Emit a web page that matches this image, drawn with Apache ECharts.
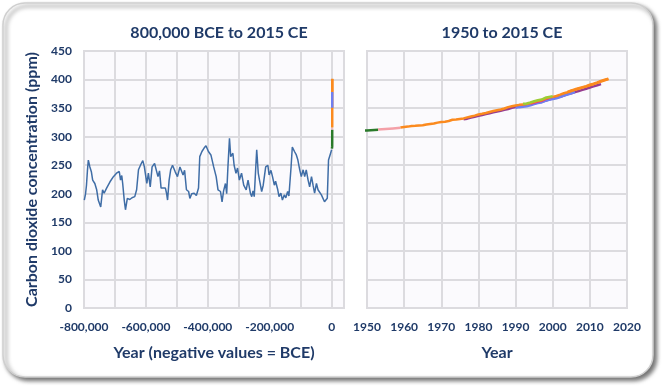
<!DOCTYPE html>
<html>
<head>
<meta charset="utf-8">
<script src="https://cdn.jsdelivr.net/npm/echarts@6/dist/echarts.min.js"></script>
<style>
html,body{margin:0;padding:0;background:#ffffff;}
#chart{width:662px;height:388px;}
</style>
</head>
<body>
<div id="chart"></div>
<script>
// ---------- DATA ----------
// Ice-core record: years (negative = BCE) and CO2 (ppm)
var iceYears = [-799000,-795000,-792000,-789000,-786000,-781000,-776000,-772000,-765000,-759000,-754000,-746000,-740000,-735000,-727000,-716000,-705000,-695000,-686000,-682000,-678000,-675000,-670000,-666000,-660000,-652000,-645000,-636000,-630000,-624000,-615000,-610000,-605000,-597000,-592000,-586000,-580000,-572000,-566000,-561000,-556000,-551000,-545000,-537000,-533000,-530000,-525000,-520000,-514000,-505000,-498000,-490000,-485000,-480000,-475000,-469000,-462000,-458000,-452000,-444000,-437000,-430000,-426000,-419000,-412000,-406000,-398000,-390000,-381000,-373000,-367000,-359000,-354000,-349000,-343000,-339000,-335000,-330000,-326000,-319000,-315000,-309000,-304000,-298000,-291000,-284000,-276000,-270000,-262000,-258000,-254000,-250000,-245000,-242000,-237000,-233000,-226000,-221000,-213000,-206000,-202000,-196000,-191000,-185000,-181000,-174000,-170000,-164000,-159000,-153000,-148000,-142000,-138000,-131000,-127000,-120000,-114000,-109000,-103000,-98000,-92000,-87000,-82000,-76000,-71000,-65000,-60000,-55000,-49000,-44000,-39000,-33000,-28000,-23000,-17000,-14000,-10000,-5000,-1000,0];
var iceCO2 = [189,200,215,240,259,247,238,224,218,207,189,177,207,201,210,221,230,236,239,224,232,218,189,172,192,190,193,195,207,242,253,258,247,218,236,212,247,253,250,230,240,210,207,210,200,189,224,242,250,238,230,247,245,233,241,207,204,192,200,201,197,210,265,274,280,284,274,268,247,230,207,204,186,205,218,200,247,297,265,271,250,236,245,224,236,215,207,224,200,195,205,195,247,277,236,224,204,215,247,250,233,241,230,215,222,207,195,201,189,198,193,204,196,247,282,274,268,259,242,230,242,230,242,224,212,230,215,201,218,207,208,198,196,186,186,192,259,268,271,277];

// Modern records
var lawYears = [1000,1400,1750,1800,1850,1880,1900,1920,1935,1945,1950,1953];
var lawCO2   = [279,280,277,283,285,291,296,303,307,310,311,312];

var sipleYears = [1953,1955,1957,1959];
var sipleCO2   = [312.5,313.5,314.5,315.5];

var mloYears = [1959,1960,1961,1962,1963,1964,1965,1966,1967,1968,1969,1970,1971,1972,1973,1974,1975,1976,1977,1978,1979,1980,1981,1982,1983,1984,1985,1986,1987,1988,1989,1990,1991,1992,1993,1994,1995,1996,1997,1998,1999,2000,2001,2002,2003,2004,2005,2006,2007,2008,2009,2010,2011,2012,2013,2014,2015];
var mloCO2   = [316.0,316.9,317.6,318.5,319.0,319.6,320.0,321.4,322.2,323.0,324.6,325.7,326.3,327.5,329.7,330.2,331.1,332.0,333.8,335.4,336.8,338.8,340.1,341.5,343.2,344.9,346.4,347.6,349.3,351.7,353.2,354.5,355.7,356.5,357.2,359.0,361.0,362.7,363.9,366.8,368.5,369.7,371.3,373.5,376.0,377.7,380.0,382.1,384.0,385.8,387.6,390.1,391.9,394.1,396.7,398.8,401.0];

var poleYears = [1976,1977,1978,1979,1980,1981,1982,1983,1984,1985,1986,1987,1988,1989,1990,1991,1992,1993,1994,1995,1996,1997,1998,1999,2000,2001,2002,2003,2004,2005,2006,2007,2008,2009,2010,2011,2012,2013];
var poleCO2   = [330.5,331.5,333.5,335,336.5,338,339.5,341,342.5,344,345.5,347,348.5,350.5,352,353.5,354.5,355.5,356.5,358,360,361.5,363,365,367,368.5,370,372,374.5,376,378,380,382,384,386,388,390,392];

var grimYears = [1990,1991,1992,1993,1994,1995,1996,1997,1998,1999,2000,2001,2002,2003,2004,2005,2006];
var grimCO2   = [350.5,351.7,352.5,353.2,355,357,358.7,359.9,362.8,364.5,365.7,367.3,369.4,372,373.7,376,378];

var magYears = [1994,1995,1996,1997,1998,1999];
var magCO2   = [358,359.8,361.7,362.9,365.8,367.5];

var lgYears = [1992,1993,1994,1995,1996,1997,1998,1999,2000];
var lgCO2   = [357.5,358.2,360,362,363.7,365,368,369.7,371];

var brwYears = [2004,2005,2006,2007,2008,2009,2010,2011,2012,2013,2014,2015];
var brwCO2   = [378.5,380.8,382.9,384.8,386.6,388.4,390.9,392.6,394.8,397.5,399.6,401.5];

var leftTitle  = '800,000 BCE to 2015 CE';
var rightTitle = '1950 to 2015 CE';
var yName = 'Carbon dioxide concentration (ppm)';
var leftXName = 'Year (negative values = BCE)';
var rightXName = 'Year';

// ---------- STYLE ----------
var NAVY = '#1f3a68';
var FONT = 'Lato';
function pairs(xs, ys){ return xs.map(function(x,i){ return [x, ys[i]]; }); }
function line(name, xi, yi, xs, ys, color, w, z){
  return {name:name, type:'line', xAxisIndex:xi, yAxisIndex:yi, data:pairs(xs,ys),
    showSymbol:false, symbol:'none', lineStyle:{color:color, width:w}, itemStyle:{color:color},
    z:z, animation:false, clip:true};
}
var C = {ice:'#3f6da6', law:'#2a7a2a', siple:'#f4a0a8', mlo:'#fb8a1e', pole:'#963c8f', grim:'#6f7ff0', mag:'#e8337a', lg:'#9ccc34'};

var splitStyle = {show:true, lineStyle:{color:'#dcdbdf', width:2}};
function xAxisCfg(grid, min, max, interval, fmt, name){
  return {type:'value', gridIndex:grid, min:min, max:max, interval:interval,
    axisLine:{show:false}, axisTick:{show:false}, splitLine:splitStyle,
    axisLabel:{color:NAVY, fontFamily:FONT, fontWeight:'bold', fontSize:12, margin:13, formatter:fmt, showMaxLabel: grid===1},
    name:name, nameLocation:'middle', nameGap:37,
    nameTextStyle:{color:NAVY, fontFamily:FONT, fontWeight:'bold', fontSize:16}};
}
function yAxisCfg(grid, showLabel){
  return {type:'value', gridIndex:grid, min:0, max:450, interval:50,
    axisLine:{show:false}, axisTick:{show:false}, splitLine:splitStyle,
    axisLabel:{show:showLabel, color:NAVY, fontFamily:FONT, fontWeight:'bold', fontSize:12, margin:12},
    name: showLabel ? yName : '', nameLocation:'middle', nameGap:44, nameRotate:90,
    nameTextStyle:{color:NAVY, fontFamily:FONT, fontWeight:'bold', fontSize:16}};
}

var chart = echarts.init(document.getElementById('chart'), null, {renderer:'canvas'});
chart.setOption({
  animation:false,
  backgroundColor:'#ffffff',
  graphic:[{type:'rect', z:-10, silent:true,
    shape:{x:3, y:3, width:650, height:374, r:22},
    style:{fill:'#ffffff', stroke:'#cfcfcf', lineWidth:1.5, shadowColor:'rgba(0,0,0,0.55)', shadowBlur:4, shadowOffsetX:3, shadowOffsetY:3}}],
  title:[
    {text:leftTitle, left:214, top:20, textAlign:'center', textStyle:{color:NAVY, fontFamily:FONT, fontWeight:'bold', fontSize:16}},
    {text:rightTitle, left:497, top:20, textAlign:'center', textStyle:{color:NAVY, fontFamily:FONT, fontWeight:'bold', fontSize:16}}
  ],
  grid:[
    {left:84, top:51, width:260, height:257, show:true, backgroundColor:'#fbfafd', borderColor:'#dcdbdf', borderWidth:2},
    {left:367, top:51, width:260, height:257, show:true, backgroundColor:'#fbfafd', borderColor:'#dcdbdf', borderWidth:2}
  ],
  xAxis:[
    xAxisCfg(0, -800000, 40000, 100000, function(v){ return (v % 200000 === 0 && v <= 0) ? Number(v).toLocaleString('en-US') : ''; }, leftXName),
    xAxisCfg(1, 1950, 2020, 10, function(v){ return String(v); }, rightXName)
  ],
  yAxis:[ yAxisCfg(0, true), yAxisCfg(1, false) ],
  series:[
    line('Ice cores', 0,0, iceYears, iceCO2, C.ice, 1.5, 2),
    line('Law Dome', 0,0, lawYears, lawCO2, C.law, 2.5, 3),
    line('Siple', 0,0, sipleYears, sipleCO2, C.siple, 2.5, 3),
    line('Mauna Loa', 0,0, mloYears, mloCO2, C.mlo, 2.5, 4),
    line('Cape Grim', 0,0, grimYears, grimCO2, C.grim, 2.5, 5),
    line('Barrow', 0,0, brwYears, brwCO2, C.mlo, 2.5, 6),

    line('Law Dome', 1,1, lawYears, lawCO2, C.law, 2.5, 3),
    line('Siple', 1,1, sipleYears, sipleCO2, C.siple, 2.5, 3),
    line('South Pole', 1,1, poleYears, poleCO2, C.pole, 2.5, 3),
    line('Cape Grim', 1,1, grimYears, grimCO2, C.grim, 2.5, 3),
    line('Other', 1,1, magYears, magCO2, C.mag, 2.5, 3),
    line('Mauna Loa', 1,1, mloYears, mloCO2, C.mlo, 2.5, 4),
    line('Lampedusa', 1,1, lgYears, lgCO2, C.lg, 2.5, 5),
    line('Barrow', 1,1, brwYears, brwCO2, C.mlo, 2.5, 6)
  ]
});
</script>
</body>
</html>
